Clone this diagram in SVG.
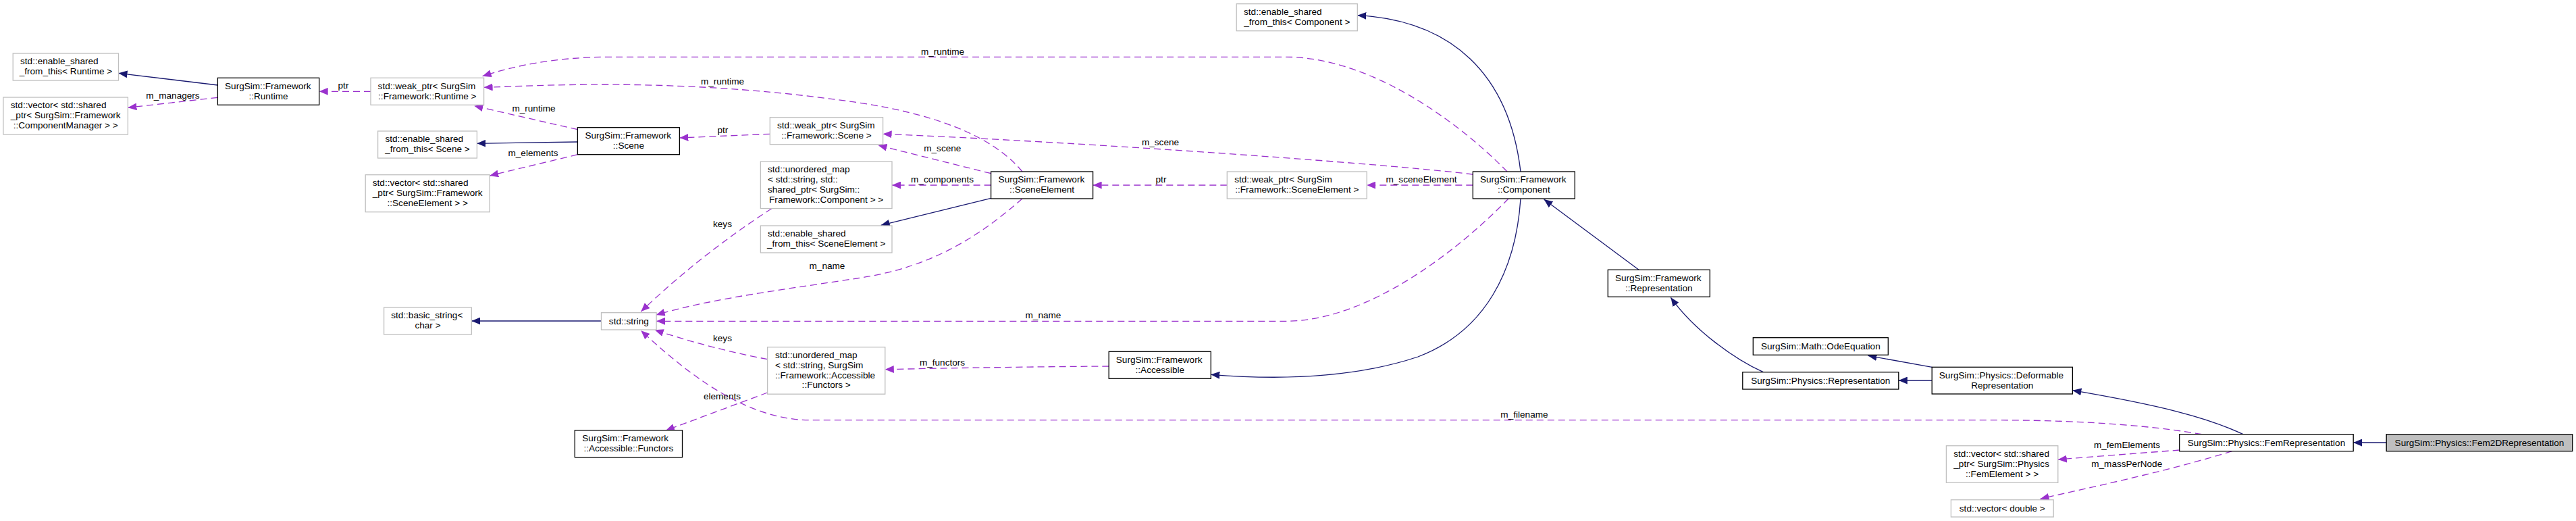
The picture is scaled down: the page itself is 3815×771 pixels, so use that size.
<svg xmlns="http://www.w3.org/2000/svg" width="3815" height="771" viewBox="0 0 3815 771">
<style>
text{font-family:"Liberation Sans",Arial,Helvetica,sans-serif;font-size:13.6px;fill:#000}
.c{text-anchor:middle}
.k rect{fill:#fff;stroke:#000;stroke-width:1.3}
.g rect{fill:#fff;stroke:#bfbfbf;stroke-width:1.3}
.f rect{fill:#bfbfbf;stroke:#000;stroke-width:1.3}
.inh{fill:none;stroke:#191970;stroke-width:1.3;marker-end:url(#an)}
.use{fill:none;stroke:#9a32cd;stroke-width:1.3;stroke-dasharray:10,6;marker-end:url(#ap)}
</style>
<defs>
<marker id="an" markerUnits="userSpaceOnUse" markerWidth="14" markerHeight="11" refX="13" refY="5.5" orient="auto"><path d="M0,0 L13,5.5 L0,11 z" fill="#191970"/></marker>
<marker id="ap" markerUnits="userSpaceOnUse" markerWidth="14" markerHeight="11" refX="13" refY="5.5" orient="auto"><path d="M0,0 L13,5.5 L0,11 z" fill="#9a32cd"/></marker>
</defs>
<rect width="3815" height="771" fill="#fff"/>
<g id="connectors">
<path class="inh" d="M322.4,126 L175.5,108.3"/>
<path class="use" d="M322.4,144.3 L189.4,159.3"/>
<path class="use" d="M549,135.3 L472.7,135.3"/>
<path class="use" d="M2232,254 C2175,195 2040,85 1905,84.3 L905,84.3 C820,84.3 760,98 714.6,112.7"/>
<path class="use" d="M1514,254 C1470,200 1380,168 1270,151.7 C1160,136 1050,126 900,125 C820,125 760,128 716.6,129.3"/>
<path class="use" d="M855.4,191.7 L702.3,156.7"/>
<path class="inh" d="M855.4,210 L706.4,212.3"/>
<path class="use" d="M855.4,228.7 L725.2,260"/>
<path class="use" d="M1140.3,198.3 L1006.4,204"/>
<path class="use" d="M2181.3,258 C2050,242 1600,210 1307.6,198.3"/>
<path class="use" d="M1467.6,256.7 L1300.6,215"/>
<path class="use" d="M1467.6,274 L1321,274"/>
<path class="inh" d="M1467.6,293.3 L1304.7,333.3"/>
<path class="use" d="M1514,294 C1450,350 1380,395 1275,411 C1180,426 1060,440 971.7,466"/>
<path class="use" d="M1143,308.5 Q1040,375 949.3,461"/>
<path class="use" d="M2234,294 C2150,380 2020,475 1905,475.3 L972,475.3"/>
<path class="inh" d="M890.5,475 L698.3,475"/>
<path class="use" d="M1136.6,531.7 Q1050,515 969.7,488.3"/>
<path class="use" d="M3260.7,642.7 C3200,632 3100,622 2960,621.7 L1200,621.7 C1100,621.7 1010,545 949.3,489.3"/>
<path class="use" d="M1136.6,581 L986,637"/>
<path class="use" d="M1642.2,542 Q1480,543 1310.8,546.7"/>
<path class="inh" d="M2252,294 C2245,400 2200,490 2100,528 C2010,558 1900,563 1793.3,554.3"/>
<path class="inh" d="M2252,254 C2235,110 2150,30 2010.3,22.7"/>
<path class="use" d="M2181.3,274 L2024.2,274"/>
<path class="use" d="M1817.3,274 L1618.6,274"/>
<path class="inh" d="M2427,399.3 L2286.6,295"/>
<path class="inh" d="M2611.4,550.7 C2570,532 2510,490 2474.4,440.3"/>
<path class="inh" d="M2861.2,543.3 L2766.5,526.3"/>
<path class="inh" d="M2861.2,563 L2811.8,563"/>
<path class="inh" d="M3322,642.7 C3270,618 3200,600 3069.4,577.7"/>
<path class="inh" d="M3534.2,655 L3485.2,655"/>
<path class="use" d="M3227.7,666 L3047.8,680"/>
<path class="use" d="M3305.6,667.7 C3200,700 3100,720 3021.6,738.3"/>
<text class="c" x="256" y="145.5">m_managers</text>
<text class="c" x="508.5" y="131.2">ptr</text>
<text class="c" x="1396" y="81.2">m_runtime</text>
<text class="c" x="1070" y="125.2">m_runtime</text>
<text class="c" x="790.5" y="165.2">m_runtime</text>
<text class="c" x="789.5" y="231.2">m_elements</text>
<text class="c" x="1070.4" y="197.2">ptr</text>
<text class="c" x="1718.5" y="214.5">m_scene</text>
<text class="c" x="1395.8" y="223.5">m_scene</text>
<text class="c" x="1395.5" y="270.2">m_components</text>
<text class="c" x="1225" y="398.2">m_name</text>
<text class="c" x="1070" y="335.5">keys</text>
<text class="c" x="1545" y="471.2">m_name</text>
<text class="c" x="1070" y="504.8">keys</text>
<text class="c" x="2257.5" y="617.8">m_filename</text>
<text class="c" x="1069.5" y="591.2">elements</text>
<text class="c" x="1395.5" y="541.2">m_functors</text>
<text class="c" x="2105" y="270.2">m_sceneElement</text>
<text class="c" x="1719.5" y="270.2">ptr</text>
<text class="c" x="3150" y="663.2">m_femElements</text>
<text class="c" x="3149.7" y="691.2">m_massPerNode</text>
</g>
<g id="esft_runtime" class="g"><rect x="19.2" y="79" width="156.3" height="40"/><text x="30" y="95.2">std::enable_shared</text><text class="c" x="97.4" y="110.2">_from_this&lt; Runtime &gt;</text></g>
<g id="vec_componentmanager" class="g"><rect x="4.9" y="144" width="184.5" height="55"/><text x="15.8" y="160.2">std::vector&lt; std::shared</text><text x="15.8" y="175.2">_ptr&lt; SurgSim::Framework</text><text class="c" x="97.2" y="190">::ComponentManager &gt; &gt;</text></g>
<g id="runtime" class="k"><rect x="322.4" y="115.3" width="150.3" height="40"/><text x="333" y="131.5">SurgSim::Framework</text><text class="c" x="397.5" y="146.5">::Runtime</text></g>
<g id="weak_runtime" class="g"><rect x="549" y="115.3" width="167.6" height="40"/><text x="559.6" y="131.5">std::weak_ptr&lt; SurgSim</text><text class="c" x="632.8" y="146.5">::Framework::Runtime &gt;</text></g>
<g id="esft_scene" class="g"><rect x="559.6" y="194" width="146.8" height="40"/><text x="570.4" y="210.2">std::enable_shared</text><text class="c" x="633" y="225.2">_from_this&lt; Scene &gt;</text></g>
<g id="vec_sceneelement" class="g"><rect x="541.2" y="258.7" width="184" height="55"/><text x="551.8" y="274.9">std::vector&lt; std::shared</text><text x="551.8" y="289.9">_ptr&lt; SurgSim::Framework</text><text class="c" x="633.2" y="304.7">::SceneElement &gt; &gt;</text></g>
<g id="basic_string" class="g"><rect x="568.6" y="455" width="129.7" height="40"/><text x="579.2" y="471.2">std::basic_string&lt;</text><text class="c" x="633.5" y="486.2">char &gt;</text></g>
<g id="scene" class="k"><rect x="855.4" y="188.7" width="151" height="40"/><text x="866.4" y="204.9">SurgSim::Framework</text><text class="c" x="930.9" y="219.9">::Scene</text></g>
<g id="weak_scene" class="g"><rect x="1140.3" y="173.7" width="167.3" height="40"/><text x="1151" y="189.9">std::weak_ptr&lt; SurgSim</text><text class="c" x="1224" y="204.9">::Framework::Scene &gt;</text></g>
<g id="umap_component" class="g"><rect x="1126.4" y="239" width="194.6" height="69.5"/><text x="1137" y="255.2">std::unordered_map</text><text x="1137" y="270.2">&lt; std::string, std::</text><text x="1137" y="285.2">shared_ptr&lt; SurgSim::</text><text class="c" x="1223.7" y="299.6">Framework::Component &gt; &gt;</text></g>
<g id="esft_sceneelement" class="g"><rect x="1126.4" y="334" width="194.6" height="40"/><text x="1137" y="350.2">std::enable_shared</text><text class="c" x="1223.7" y="365.2">_from_this&lt; SceneElement &gt;</text></g>
<g id="std_string" class="g"><rect x="890.5" y="462.7" width="81.6" height="25.3"/><text class="c" x="931.3" y="479.8">std::string</text></g>
<g id="umap_functors" class="g"><rect x="1136.6" y="513.7" width="174.2" height="69.5"/><text x="1148" y="529.9">std::unordered_map</text><text x="1148" y="544.9">&lt; std::string, SurgSim</text><text x="1148" y="559.9">::Framework::Accessible</text><text class="c" x="1223.7" y="574.3">::Functors &gt;</text></g>
<g id="functors" class="k"><rect x="851.3" y="636.7" width="159.2" height="40"/><text x="862.3" y="652.9">SurgSim::Framework</text><text class="c" x="930.9" y="667.9">::Accessible::Functors</text></g>
<g id="sceneelement" class="k"><rect x="1467.6" y="254" width="151" height="40"/><text x="1478.6" y="270.2">SurgSim::Framework</text><text class="c" x="1543.1" y="285.2">::SceneElement</text></g>
<g id="esft_component" class="g"><rect x="1831.2" y="5.7" width="179.1" height="40"/><text x="1842" y="21.9">std::enable_shared</text><text class="c" x="1920.8" y="36.9">_from_this&lt; Component &gt;</text></g>
<g id="weak_sceneelement" class="g"><rect x="1817.3" y="254" width="206.9" height="40"/><text x="1828.2" y="270.2">std::weak_ptr&lt; SurgSim</text><text class="c" x="1920.8" y="285.2">::Framework::SceneElement &gt;</text></g>
<g id="accessible" class="k"><rect x="1642.2" y="520.3" width="151.1" height="40"/><text x="1652.8" y="536.5">SurgSim::Framework</text><text class="c" x="1717.8" y="551.5">::Accessible</text></g>
<g id="component" class="k"><rect x="2181.3" y="254" width="151" height="40"/><text x="2191.9" y="270.2">SurgSim::Framework</text><text class="c" x="2256.8" y="285.2">::Component</text></g>
<g id="framework_representation" class="k"><rect x="2381.3" y="399.3" width="151" height="40"/><text x="2391.9" y="415.5">SurgSim::Framework</text><text class="c" x="2456.8" y="430.5">::Representation</text></g>
<g id="odeequation" class="k"><rect x="2596.3" y="499.7" width="200" height="25.6"/><text class="c" x="2696.3" y="516.8">SurgSim::Math::OdeEquation</text></g>
<g id="physics_representation" class="k"><rect x="2580.8" y="550.7" width="231" height="25.3"/><text class="c" x="2696.3" y="567.8">SurgSim::Physics::Representation</text></g>
<g id="deformable" class="k"><rect x="2861.2" y="543.3" width="208.2" height="39.7"/><text x="2871.8" y="559.5">SurgSim::Physics::Deformable</text><text class="c" x="2965.3" y="574.5">Representation</text></g>
<g id="vec_femelement" class="g"><rect x="2882.4" y="659.7" width="165.4" height="54.6"/><text x="2893.3" y="675.9">std::vector&lt; std::shared</text><text x="2893.3" y="690.9">_ptr&lt; SurgSim::Physics</text><text class="c" x="2965.1" y="705.7">::FemElement &gt; &gt;</text></g>
<g id="vec_double" class="g"><rect x="2889.4" y="739.7" width="151.8" height="25.3"/><text class="c" x="2965.3" y="756.8">std::vector&lt; double &gt;</text></g>
<g id="femrepresentation" class="k"><rect x="3227.7" y="642.7" width="257.5" height="25"/><text class="c" x="3356.5" y="659.7">SurgSim::Physics::FemRepresentation</text></g>
<g id="fem2drepresentation" class="f"><rect x="3534.2" y="642.7" width="275.5" height="25"/><text class="c" x="3672" y="659.7">SurgSim::Physics::Fem2DRepresentation</text></g>
</svg>
